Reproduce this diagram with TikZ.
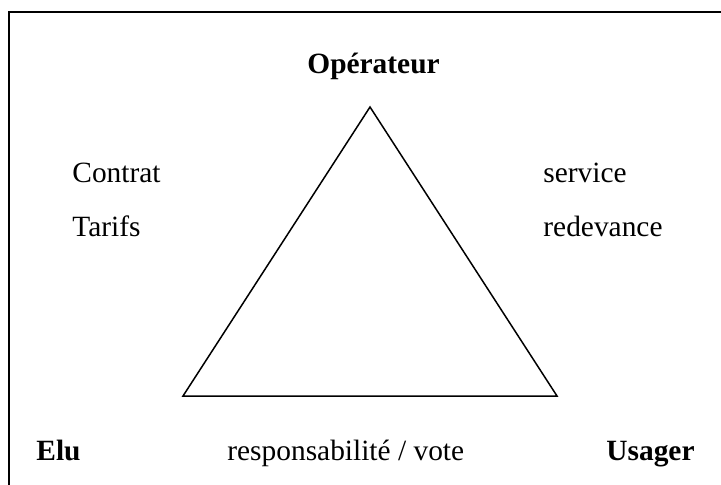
\documentclass[tikz,border=0pt]{standalone}
\usepackage{fontspec}
\setmainfont{Liberation Serif}
\begin{document}
\begin{tikzpicture}[x=0.5pt, y=-0.5pt, font=\fontsize{14.7}{17}\selectfont,
	lbl/.style={anchor=base west, inner sep=0pt}]
	\useasboundingbox (0, 0) rectangle (721, 485);
	\draw [line width=1pt] (9, 485) -- (9, 12) -- (721, 12);
	\coordinate (top) at (370, 107);
	\coordinate (left) at (183, 396);
	\coordinate (right) at (557, 396);
	\draw [line width=0.75pt] (top) -- (right) -- (left) -- cycle;
	\node [lbl] (op) at (307, 74) {\textbf{Opérateur}};
	\node [lbl] (contrat) at (72, 183) {Contrat};
	\node [lbl] (tarifs) at (72, 237) {Tarifs};
	\node [lbl] (service) at (543, 183) {service};
	\node [lbl] (redevance) at (543, 237) {redevance};
	\node [lbl] (elu) at (36, 460) {\textbf{Elu}};
	\node [lbl] (resp) at (227, 460) {responsabilité / vote};
	\node [lbl] (usager) at (606, 460) {\textbf{Usager}};
\end{tikzpicture}
\end{document}
